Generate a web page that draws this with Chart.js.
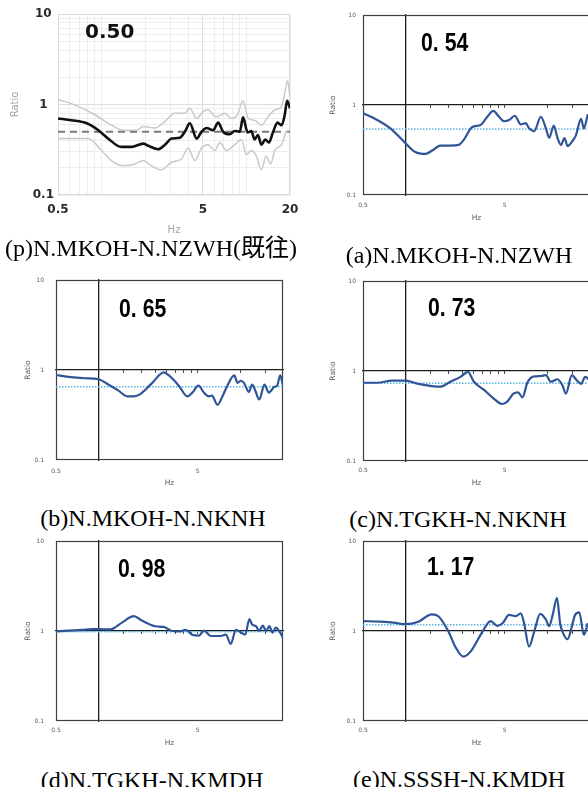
<!DOCTYPE html>
<html>
<head>
<meta charset="utf-8">
<script src="https://cdn.jsdelivr.net/npm/chart.js@4.4.1/dist/chart.umd.min.js"></script>
<style>
  html, body { margin: 0; padding: 0; background: #fff; }
  body { width: 588px; height: 787px; overflow: hidden; position: relative; }
  canvas { position: absolute; }
  .cap {
    position: absolute; white-space: nowrap; line-height: 1;
    font-family: "Liberation Serif", "Times New Roman", "Noto Sans CJK JP", serif;
    font-size: 24px; color: #000; transform: translateX(-50%);
  }
</style>
</head>
<body>
<script>
// ---- axis ranges and tick labels ----
const X_MIN = 0.5, X_MAX = 20, Y_MIN = 0.1, Y_MAX = 10;
const xTickValues = [0.5, 5];
const xTickLabels = ['0.5', '5'];
const xTickValuesP = [0.5, 5, 20];
const xTickLabelsP = ['0.5', '5', '20'];
const yTickValues = [0.1, 1, 10];
const yTickLabels = ['0.1', '1', '10'];
const xGridP = [0.5, 0.6, 0.7, 0.8, 0.9, 1, 2, 3, 4, 5, 6, 7, 8, 9, 10, 20];
const yGridP = [0.1, 0.2, 0.3, 0.4, 0.5, 0.6, 0.7, 0.8, 0.9, 1, 2, 3, 4, 5, 6, 7, 8, 9, 10];
const axisMarks = [1.5, 2, 2.5, 3, 3.5, 4, 4.5, 5, 10, 15];

// ---- (p) previous study: mean and +/- bounds ----
const freqP = [0.5, 0.62, 0.79, 0.95, 1.11, 1.37, 1.61, 1.94, 2.10, 2.46, 2.74, 3.04, 3.47, 3.76, 4.07, 4.53, 4.90, 5.31, 5.89, 6.38, 6.9, 7.68, 8.31, 9.0, 9.48, 10.2, 10.8, 11.4, 12.0, 12.7, 13.5, 14.3, 15.3, 16.4, 17.5, 18.4, 19.1, 20];
const meanP = [0.70, 0.67, 0.62, 0.52, 0.42, 0.34, 0.34, 0.37, 0.35, 0.32, 0.36, 0.42, 0.43, 0.50, 0.62, 0.42, 0.50, 0.55, 0.52, 0.63, 0.50, 0.47, 0.51, 0.50, 0.72, 0.49, 0.51, 0.41, 0.46, 0.36, 0.41, 0.38, 0.50, 0.63, 0.59, 0.77, 1.10, 0.91];
const freqPUpper = [0.5, 0.65, 0.90, 1.17, 1.41, 1.75, 1.94, 2.33, 2.74, 3.2, 3.76, 4.07, 4.53, 5.0, 5.44, 6.21, 7.1, 7.89, 8.67, 9.48, 10.3, 11.4, 12.7, 14.1, 15.7, 17.5, 18.4, 19.2, 20];
const upperP = [1.14, 0.99, 0.77, 0.59, 0.52, 0.52, 0.57, 0.55, 0.65, 0.80, 0.80, 0.91, 0.70, 0.83, 0.87, 0.73, 0.80, 0.70, 0.77, 1.10, 0.70, 0.67, 0.59, 0.73, 0.87, 0.95, 1.33, 1.83, 1.22];
const freqPLower = [0.5, 0.65, 0.81, 1.0, 1.17, 1.41, 1.70, 1.94, 2.21, 2.59, 3.04, 3.56, 3.96, 4.40, 4.9, 5.44, 6.05, 6.55, 7.28, 8.31, 9.24, 10.0, 10.8, 11.7, 12.7, 13.7, 14.7, 15.7, 17.5, 18.9, 20];
const lowerP = [0.42, 0.42, 0.42, 0.31, 0.24, 0.21, 0.22, 0.24, 0.21, 0.19, 0.23, 0.25, 0.33, 0.24, 0.33, 0.36, 0.31, 0.38, 0.31, 0.36, 0.41, 0.28, 0.31, 0.27, 0.19, 0.27, 0.22, 0.31, 0.36, 0.50, 0.52];
const levelP = 0.50;

// ---- (a) N.MKOH-N.NZWH ----
const freqA = [0.5, 0.59, 0.78, 1.0, 1.17, 1.38, 1.53, 1.76, 2.07, 2.37, 2.57, 2.95, 3.38, 3.77, 4.16, 4.56, 4.95, 5.37, 5.89, 6.49, 7.04, 7.43, 8.07, 9.0, 9.77, 10.3, 11.1, 11.8, 12.5, 13.2, 13.9, 14.9, 15.9, 17.3, 18.1, 19.3];
const ratioA = [0.81, 0.72, 0.55, 0.375, 0.30, 0.286, 0.31, 0.353, 0.353, 0.36, 0.41, 0.57, 0.60, 0.74, 0.86, 0.74, 0.66, 0.68, 0.76, 0.61, 0.63, 0.55, 0.51, 0.74, 0.55, 0.43, 0.59, 0.43, 0.36, 0.43, 0.35, 0.39, 0.46, 0.70, 0.55, 0.79];
const levelA = 0.54;

// ---- (b) N.MKOH-N.NKNH ----
const freqB = [0.5, 0.61, 0.80, 1.0, 1.17, 1.38, 1.59, 1.77, 1.97, 2.39, 2.88, 3.13, 3.68, 4.23, 4.58, 5.06, 5.54, 6.01, 6.3, 6.90, 7.48, 8.1, 9.06, 9.55, 10.1, 10.6, 11.5, 12.1, 12.7, 13.6, 14.8, 15.9, 17.4, 18.2, 19.1, 20];
const ratioB = [0.88, 0.84, 0.81, 0.79, 0.69, 0.59, 0.51, 0.51, 0.54, 0.72, 0.94, 0.87, 0.67, 0.51, 0.56, 0.67, 0.56, 0.51, 0.52, 0.41, 0.51, 0.67, 0.87, 0.72, 0.76, 0.72, 0.57, 0.69, 0.60, 0.47, 0.69, 0.56, 0.65, 0.67, 0.87, 0.68];
const levelB = 0.65;

// ---- (c) N.TGKH-N.NKNH ----
const freqC = [0.5, 0.63, 0.80, 1.0, 1.23, 1.53, 1.76, 2.07, 2.44, 2.75, 3.03, 3.56, 4.09, 4.82, 5.23, 5.76, 6.21, 6.67, 7.24, 8.07, 9.0, 9.77, 10.6, 11.8, 12.8, 13.5, 14.9, 15.9, 17.3, 18.5, 19.8];
const ratioC = [0.74, 0.74, 0.78, 0.78, 0.72, 0.68, 0.67, 0.76, 0.86, 0.98, 0.76, 0.62, 0.51, 0.43, 0.46, 0.56, 0.58, 0.51, 0.75, 0.87, 0.88, 0.90, 0.76, 0.81, 0.69, 0.56, 0.90, 0.81, 0.72, 0.86, 0.79];
const levelC = 0.73;

// ---- (d) N.TGKH-N.KMDH ----
const freqD = [0.5, 0.61, 0.76, 0.90, 1.0, 1.21, 1.46, 1.77, 2.03, 2.52, 2.88, 3.3, 3.78, 4.11, 4.58, 5.1, 5.54, 6.18, 7.28, 7.9, 8.57, 9.3, 10.1, 10.8, 11.6, 12.1, 12.9, 13.6, 14.4, 15.2, 16.0, 16.9, 17.8, 19.1, 20];
const ratioD = [0.99, 1.01, 1.03, 1.05, 1.05, 1.04, 1.24, 1.46, 1.30, 1.13, 1.11, 1.0, 0.99, 1.03, 0.91, 0.89, 1.01, 0.88, 0.88, 0.91, 0.72, 1.03, 0.96, 0.91, 1.36, 1.18, 1.13, 1.0, 1.15, 1.0, 1.13, 0.96, 1.09, 0.96, 0.84];
const levelD = 0.98;

// ---- (e) N.SSSH-N.KMDH ----
const freqE = [0.5, 0.66, 0.82, 1.0, 1.23, 1.53, 1.71, 2.01, 2.24, 2.55, 2.87, 3.48, 3.98, 4.44, 4.83, 5.37, 5.99, 6.49, 6.85, 7.43, 8.07, 8.9, 9.77, 10.3, 10.9, 11.7, 12.3, 12.8, 13.9, 14.9, 15.7, 16.8, 18.1, 19.3];
const ratioE = [1.29, 1.27, 1.24, 1.19, 1.27, 1.53, 1.45, 0.98, 0.67, 0.52, 0.59, 0.98, 1.29, 1.14, 1.22, 1.51, 1.46, 1.57, 1.22, 0.67, 0.98, 1.55, 1.34, 1.13, 1.51, 2.33, 1.22, 0.98, 0.81, 1.13, 1.51, 1.61, 0.91, 1.22];
const levelE = 1.17;

const captions = ['(p)N.MKOH-N.NZWH(既往)', '(a)N.MKOH-N.NZWH', '(b)N.MKOH-N.NKNH', '(c)N.TGKH-N.NKNH', '(d)N.TGKH-N.KMDH', '(e)N.SSSH-N.KMDH'];

// ---- helpers ----
const pts = (fs, rs) => fs.map((f, i) => ({ x: f, y: rs[i] }));
const flat = v => [{ x: X_MIN, y: v }, { x: X_MAX, y: v }];
const labelFor = (v, vals, labels) => {
  const i = vals.findIndex(t => Math.abs(t - v) < 1e-9);
  return i < 0 ? '' : labels[i];
};
const zeroPad = s => { s.paddingLeft = 0; s.paddingRight = 0; s.paddingTop = 0; s.paddingBottom = 0; };

// plot frame + value label inside the plot
const framePlugin = {
  id: 'frame',
  beforeDatasetsDraw(chart, args, o) {
    const { ctx, chartArea: a } = chart;
    ctx.save();
    ctx.strokeStyle = o.color;
    ctx.lineWidth = o.width;
    ctx.strokeRect(a.left + 0.5, a.top + 0.5, a.right - a.left - 1, a.bottom - a.top - 1);
    ctx.restore();
  },
  afterDraw(chart, args, o) {
    if (!o.text) return;
    const { ctx, chartArea: a } = chart;
    ctx.save();
    ctx.font = o.font;
    ctx.fillStyle = o.textColor || '#000';
    ctx.textAlign = 'left';
    ctx.textBaseline = 'middle';
    ctx.translate(a.left + o.dx, a.top + o.dy);
    ctx.scale(o.sx || 1, 1);
    ctx.fillText(o.text, 0, 0);
    ctx.restore();
  }
};

function makeCanvas(box, yW, xH, padT, padR) {
  const c = document.createElement('canvas');
  c.width = box.R - box.L + yW + padR;
  c.height = box.B - box.T + padT + xH;
  c.style.left = (box.L - yW) + 'px';
  c.style.top = (box.T - padT) + 'px';
  c.style.width = c.width + 'px';
  c.style.height = c.height + 'px';
  document.body.appendChild(c);
  return c;
}

const baseOptions = {
  responsive: false,
  animation: false,
  events: [],
  plugins: { legend: { display: false }, tooltip: { enabled: false } }
};

// ---- (p) panel: gridded log-log plot ----
function drawPanelP() {
  const box = { L: 58, T: 14, R: 290, B: 195 };
  const yW = 58, xH = 41, padT = 8, padR = 14;
  const c = makeCanvas(box, yW, xH, padT, padR);
  const majorX = [5], majorY = [1];
  new Chart(c, {
    type: 'line',
    data: {
      datasets: [
        { data: pts(freqP, meanP), borderColor: '#111', borderWidth: 2.6, pointRadius: 0, cubicInterpolationMode: 'monotone' },
        { data: pts(freqPUpper, upperP), borderColor: '#c9c9c9', borderWidth: 1.5, pointRadius: 0, cubicInterpolationMode: 'monotone' },
        { data: pts(freqPLower, lowerP), borderColor: '#c9c9c9', borderWidth: 1.5, pointRadius: 0, cubicInterpolationMode: 'monotone' },
        { data: flat(levelP), borderColor: '#7a7a7a', borderWidth: 1.8, borderDash: [7, 5], pointRadius: 0 }
      ]
    },
    options: {
      ...baseOptions,
      layout: { padding: { top: padT, right: padR, left: 0, bottom: 0 } },
      scales: {
        x: {
          type: 'logarithmic', position: 'bottom', min: X_MIN, max: X_MAX,
          afterBuildTicks: s => { s.ticks = xGridP.map(v => ({ value: v })); },
          afterFit: s => { s.height = xH; zeroPad(s); },
          grid: { drawTicks: false, color: ctx => majorX.includes(ctx.tick && ctx.tick.value) ? '#dcdcdc' : '#ededed', lineWidth: 1 },
          border: { display: false },
          ticks: {
            autoSkip: false, maxRotation: 0, padding: 8, color: '#2a2a2a',
            font: { family: 'DejaVu Sans', size: 12, weight: 'bold' },
            callback: v => labelFor(v, xTickValuesP, xTickLabelsP)
          },
          title: { display: true, text: 'Hz', color: '#a3a3a3', font: { family: 'DejaVu Sans', size: 10 }, padding: { top: 0, bottom: 0 } }
        },
        y: {
          type: 'logarithmic', position: 'left', min: Y_MIN, max: Y_MAX,
          afterBuildTicks: s => { s.ticks = yGridP.map(v => ({ value: v })); },
          afterFit: s => { s.width = yW; zeroPad(s); },
          grid: { drawTicks: false, color: ctx => majorY.includes(ctx.tick && ctx.tick.value) ? '#dcdcdc' : '#ededed', lineWidth: 1 },
          border: { display: false },
          ticks: {
            autoSkip: false, padding: 4, crossAlign: 'center', color: '#2a2a2a',
            font: { family: 'DejaVu Sans', size: 12, weight: 'bold' },
            callback: v => labelFor(v, yTickValues, yTickLabels)
          },
          title: { display: true, text: 'Ratio', color: '#a3a3a3', font: { family: 'DejaVu Sans', size: 10 }, padding: { top: 9, bottom: 0 } }
        }
      },
      plugins: {
        ...baseOptions.plugins,
        frame: { color: '#dadada', width: 1, text: levelP.toFixed(2), font: 'bold 20px "DejaVu Sans"', dx: 27, dy: 19, textColor: '#111' }
      }
    },
    plugins: [framePlugin]
  });
}

// ---- (a)-(e) panels: spreadsheet-style plots ----
function drawPanelX(p) {
  const box = p.box;
  const yW = 40, xH = 28, padT = 8, padR = 6;
  const c = makeCanvas(box, yW, xH, padT, padR);
  const textFont = { family: 'DejaVu Sans', size: 6 };
  const titleFont = { family: 'DejaVu Sans', size: 7.5 };
  new Chart(c, {
    type: 'line',
    data: {
      datasets: [
        { data: pts(p.freq, p.ratio), borderColor: '#2f5597', borderWidth: 2.2, pointRadius: 0, cubicInterpolationMode: 'monotone', xAxisID: 'x', yAxisID: 'y' },
        { data: flat(p.level), borderColor: '#55b6e4', borderWidth: 1.5, borderDash: [1.5, 1.5], pointRadius: 0, xAxisID: 'x', yAxisID: 'y' }
      ]
    },
    options: {
      ...baseOptions,
      layout: { padding: { top: padT, right: padR, left: 0, bottom: 0 } },
      scales: {
        x: {
          type: 'logarithmic', position: 'bottom', min: X_MIN, max: X_MAX,
          afterBuildTicks: s => { s.ticks = xTickValues.map(v => ({ value: v })); },
          afterFit: s => { s.height = xH; zeroPad(s); },
          grid: { display: false, drawTicks: false },
          border: { display: false },
          ticks: { autoSkip: false, maxRotation: 0, padding: p.xPad, color: '#595959', font: textFont,
                   callback: v => labelFor(v, xTickValues, xTickLabels) },
          title: { display: true, text: 'Hz', color: '#595959', font: titleFont, padding: { top: 0, bottom: p.hzPad } }
        },
        y: {
          type: 'logarithmic', position: 'left', min: Y_MIN, max: Y_MAX,
          afterBuildTicks: s => { s.ticks = yTickValues.map(v => ({ value: v })); },
          afterFit: s => { s.width = yW; zeroPad(s); },
          grid: { display: false, drawTicks: false },
          border: { display: false },
          ticks: { autoSkip: false, padding: p.yPad, color: '#595959', font: textFont,
                   callback: v => labelFor(v, yTickValues, yTickLabels) },
          title: { display: true, text: 'Ratio', color: '#595959', font: titleFont, padding: { top: p.ratioPad, bottom: 0 } }
        },
        // horizontal axis crossing at ratio 1, with its tick marks
        xm: {
          type: 'logarithmic', min: X_MIN, max: X_MAX, position: { y: 1 },
          afterBuildTicks: s => { s.ticks = axisMarks.map(v => ({ value: v })); },
          afterFit: s => { s.height = 0; zeroPad(s); },
          ticks: { display: false },
          grid: { display: true, drawOnChartArea: false, drawTicks: true, tickLength: 2.5, tickColor: '#333', tickWidth: 1, color: '#333' },
          border: { display: true, color: '#1c1c1c', width: 1.3 }
        },
        // vertical axis crossing at 1 Hz
        yv: {
          type: 'logarithmic', min: Y_MIN, max: Y_MAX, position: { x: 1 },
          afterFit: s => { s.width = 0; zeroPad(s); },
          ticks: { display: false },
          grid: { display: false, drawTicks: false },
          border: { display: true, color: '#1c1c1c', width: 1.3 }
        }
      },
      plugins: {
        ...baseOptions.plugins,
        frame: { color: '#404040', width: 1.2, text: p.level.toFixed(2).replace('.', '. '), font: 'bold 25px "Liberation Sans", Arial, sans-serif', sx: 0.85, dx: p.dx, dy: p.dy }
      }
    },
    plugins: [framePlugin]
  });
}

drawPanelP();
const panels = [
  { freq: freqA, ratio: ratioA, level: levelA, box: { L: 363, T: 15, R: 590, B: 195 }, dx: 58, dy: 29, yPad: 7, ratioPad: 6, xPad: 6.4, hzPad: 0.5 },
  { freq: freqB, ratio: ratioB, level: levelB, box: { L: 56, T: 280, R: 283, B: 460 }, dx: 63, dy: 30, yPad: 12, ratioPad: 8, xPad: 7.5, hzPad: 0 },
  { freq: freqC, ratio: ratioC, level: levelC, box: { L: 363, T: 281, R: 590, B: 461 }, dx: 65, dy: 28, yPad: 7, ratioPad: 6, xPad: 5.4, hzPad: 1.2 },
  { freq: freqD, ratio: ratioD, level: levelD, box: { L: 56, T: 541, R: 283, B: 721 }, dx: 62, dy: 29, yPad: 12, ratioPad: 8, xPad: 6, hzPad: 1.5 },
  { freq: freqE, ratio: ratioE, level: levelE, box: { L: 363, T: 541, R: 590, B: 721 }, dx: 64, dy: 27.5, yPad: 7, ratioPad: 6, xPad: 5.4, hzPad: 1.2 }
];
panels.forEach(drawPanelX);

// figure captions under each plot
const capPos = [[151, 236], [459, 243], [153, 506], [458, 507], [152, 768], [459, 767]];
captions.forEach((t, i) => {
  const d = document.createElement('div');
  d.className = 'cap';
  d.textContent = t;
  d.style.left = capPos[i][0] + 'px';
  d.style.top = capPos[i][1] + 'px';
  document.body.appendChild(d);
});
</script>
</body>
</html>
